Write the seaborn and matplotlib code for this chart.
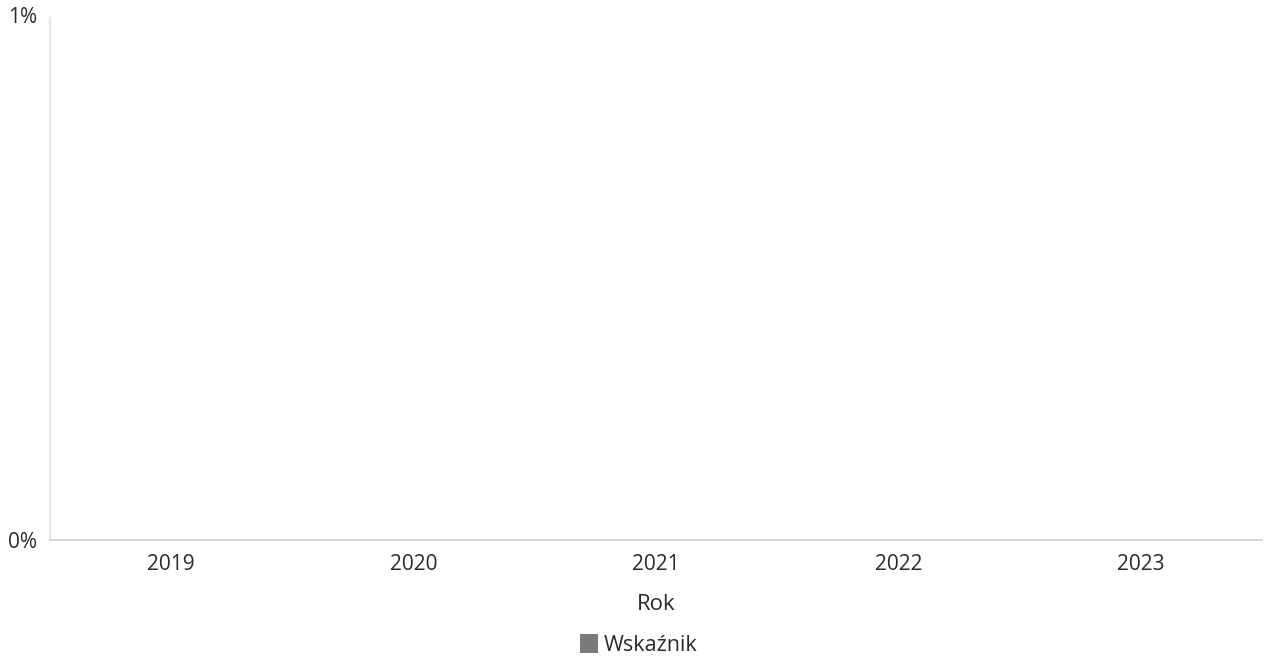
import matplotlib
matplotlib.use("Agg")
import numpy as np
import pandas as pd
import seaborn as sns
from matplotlib import pyplot as plt
from matplotlib.patches import Patch
from matplotlib.ticker import FuncFormatter

years = ["2019", "2020", "2021", "2022", "2023"]
wskaznik = [0.0, 0.0, 0.0, 0.0, 0.0]  # percent

sns.set_theme(style="white")
plt.rcParams["font.family"] = ["Open Sans", "DejaVu Sans"]

df = pd.DataFrame({"Rok": years, "Wskaźnik": wskaznik})

fig = plt.figure(figsize=(12.65, 6.61), dpi=100)
ax = fig.add_axes([0.0395, 0.183, 0.958, 0.790])

sns.barplot(data=df, x="Rok", y="Wskaźnik", color="#7a7a7a", width=0.6, ax=ax)

ax.set_ylim(0, 1)
ax.set_yticks([0, 1])
ax.yaxis.set_major_formatter(FuncFormatter(lambda v, _: f"{v:.0f}%"))
ax.set_xlim(-0.5, len(years) - 0.5)

text_color = "#2b2b2b"
ax.tick_params(axis="both", length=0, labelsize=15, colors=text_color)
ax.tick_params(axis="x", pad=10)
ax.tick_params(axis="y", pad=9)
for lab in ax.get_yticklabels():
    lab.set_verticalalignment("center_baseline" if lab.get_text() == "0%" else "center")

ax.set_xlabel("Rok", fontsize=16, color=text_color, labelpad=14)
ax.set_ylabel("")

for side in ("top", "right"):
    ax.spines[side].set_visible(False)
ax.spines["left"].set_color("#e6e6e6")
ax.spines["bottom"].set_color("#cfcfcf")
ax.spines["left"].set_linewidth(1.5)
ax.spines["bottom"].set_linewidth(1.2)

handles = [Patch(facecolor="#7a7a7a", edgecolor="none", label="Wskaźnik")]
fig.legend(handles=handles, loc="center", bbox_to_anchor=(0.505, 0.024),
           frameon=False, fontsize=15.5, handlelength=0.85, handleheight=1.0,
           handletextpad=0.25, labelcolor=text_color)

fig.savefig("out.png", dpi=100)
